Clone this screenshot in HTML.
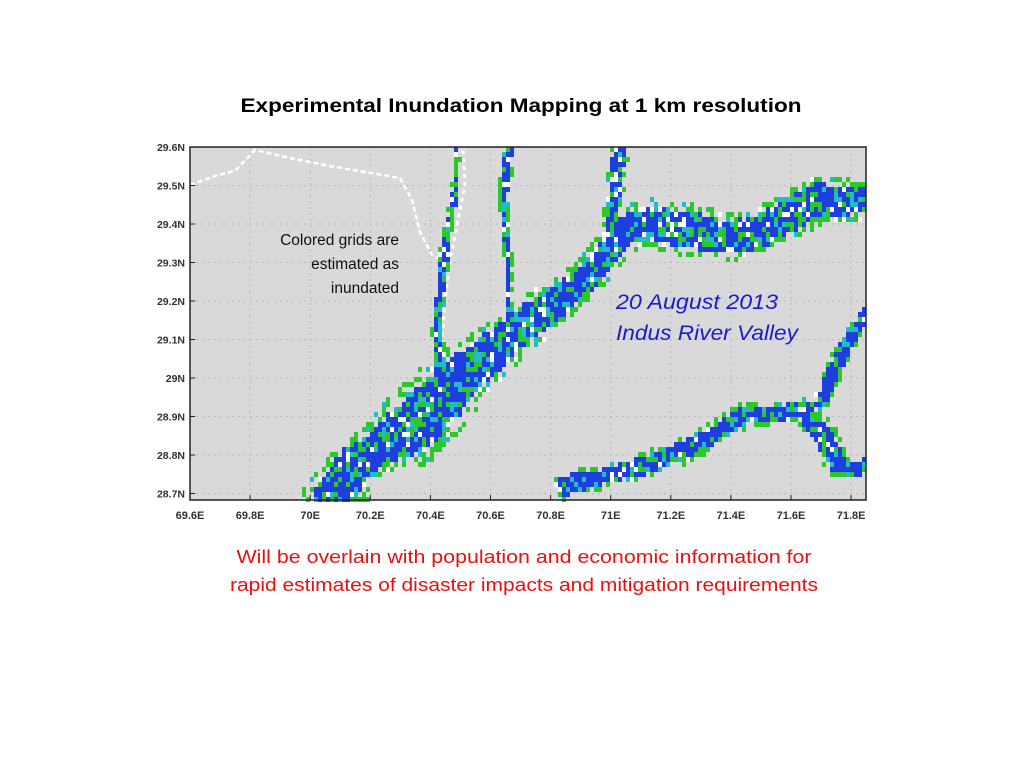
<!DOCTYPE html>
<html><head><meta charset="utf-8"><style>
html,body{margin:0;padding:0;background:#fff;width:1024px;height:768px;overflow:hidden}
</style></head><body>
<svg id="chart" width="1024" height="768" viewBox="0 0 1024 768" xmlns="http://www.w3.org/2000/svg">
<text x="521" y="112" text-anchor="middle" font-family="Liberation Sans, sans-serif" font-weight="bold" font-size="19" textLength="561" lengthAdjust="spacingAndGlyphs">Experimental Inundation Mapping at 1 km resolution</text>
<rect x="190" y="147" width="676" height="353" fill="#d9d9d9"/>
<g id="grid"></g>
<polyline points="190,185 215,176 235,171 255,150 290,158 330,166 400,178 412,200 420,232 432,255 447,262" fill="none" stroke="#fff" stroke-width="2.5" stroke-dasharray="5,3"/>
<polyline points="463,150 465,185 458,220 450,260 445,300 442,340 445,380" fill="none" stroke="#fff" stroke-width="3" stroke-dasharray="4,4"/>
<g id="cells"></g>
<rect x="190" y="147" width="676" height="353" fill="none" stroke="#222" stroke-width="1.5"/>
<g id="axes"></g>
<g font-family="Liberation Sans, sans-serif" font-size="15.5" text-anchor="end" fill="#111">
<text x="399" y="245">Colored grids are</text>
<text x="399" y="269">estimated as</text>
<text x="399" y="293">inundated</text>
</g>
<g font-family="Liberation Sans, sans-serif" font-size="21" font-style="italic" fill="#1a1ad0">
<text x="616" y="309" textLength="162" lengthAdjust="spacingAndGlyphs">20 August 2013</text>
<text x="616" y="340" textLength="182" lengthAdjust="spacingAndGlyphs">Indus River Valley</text>
</g>
<g font-family="Liberation Sans, sans-serif" font-size="18" text-anchor="middle" fill="#e81010">
<text x="524" y="563" textLength="575" lengthAdjust="spacingAndGlyphs">Will be overlain with population and economic information for</text>
<text x="524" y="591" textLength="588" lengthAdjust="spacingAndGlyphs">rapid estimates of disaster impacts and mitigation requirements</text>
</g>
</svg>
<script>
const lonTicks=[69.6,69.8,70.0,70.2,70.4,70.6,70.8,71.0,71.2,71.4,71.6,71.8];
const lonLabels=["69.6E","69.8E","70E","70.2E","70.4E","70.6E","70.8E","71E","71.2E","71.4E","71.6E","71.8E"];
const latTicks=[29.6,29.5,29.4,29.3,29.2,29.1,29.0,28.9,28.8,28.7];
const latLabels=["29.6N","29.5N","29.4N","29.3N","29.2N","29.1N","29N","28.9N","28.8N","28.7N"];
// river centerlines: lon, lat, width (km)
const indusLon=[70.083,70.149,70.216,70.332,70.432,70.532,70.632,70.732,70.831,70.931,70.998,71.048,71.131,71.264,71.397,71.497,71.597,71.697,71.85];
const indusLat=[28.691,28.774,28.813,28.865,28.943,29.021,29.086,29.151,29.203,29.268,29.333,29.384,29.397,29.384,29.364,29.379,29.423,29.462,29.462];
const indusW=[40,34,30,48,46,38,32,30,26,24,22,28,32,32,30,28,30,30,24];
const branchLon=[70.998,71.005,71.02,71.03];
const branchLat=[29.333,29.42,29.52,29.6];
const branchW=[14,12,12,12];
const tribLon=[70.49,70.48,70.45,70.42,70.43];
const tribLat=[29.6,29.47,29.33,29.15,29.02];
const tribW=[4,5,7,7,10];
const trib2Lon=[70.66,70.645,70.66,70.66];
const trib2Lat=[29.6,29.47,29.3,29.15];
const trib2W=[8,7,5,5];
const southLon=[70.85,70.98,71.11,71.24,71.34,71.44,71.54,71.64,71.7,71.77,71.85];
const southLat=[28.72,28.745,28.77,28.81,28.85,28.9,28.905,28.92,28.86,28.76,28.77];
const southW=[18,14,16,16,16,16,12,16,18,16,14];
const eastLon=[71.85,71.78,71.73,71.7];
const eastLat=[29.17,29.08,29.0,28.93];
const eastW=[8,12,12,10];
const rivers=[[indusLon,indusLat,indusW],[branchLon,branchLat,branchW],[tribLon,tribLat,tribW],[trib2Lon,trib2Lat,trib2W],[southLon,southLat,southW],[eastLon,eastLat,eastW]];

const X0=190,X1=866,Y0=147,Y1=500;
const xs=lon=>X0+(lon-69.6)/0.2*60.1;
const ys=lat=>Y0+(29.6-lat)/0.1*38.5;
const NS="http://www.w3.org/2000/svg";
function mk(t,a,p){const e=document.createElementNS(NS,t);for(const k in a)e.setAttribute(k,a[k]);p.appendChild(e);return e;}
const grid=document.getElementById('grid'),axes=document.getElementById('axes'),cells=document.getElementById('cells');
lonTicks.forEach((v,i)=>{const x=xs(v);
 const g=mk('line',{x1:x,x2:x,y1:Y0,y2:Y1,stroke:'#b8b8b8','stroke-width':1,'stroke-dasharray':'2,4'},grid);
 
 
 const t=mk('text',{x:x,y:519,'text-anchor':'middle','font-family':'Liberation Sans, sans-serif','font-weight':'bold','font-size':11,fill:'#333'},axes);
 t.textContent=lonLabels[i];
 
 
 const tk=mk('line',{x1:x,x2:x,y1:Y1,y2:Y1-5,stroke:'#222'},axes);
 
 
});
latTicks.forEach((v,i)=>{const y=ys(v);
 const g=mk('line',{x1:X0,x2:X1,y1:y,y2:y,stroke:'#b8b8b8','stroke-width':1,'stroke-dasharray':'2,4'},grid);
 
 
 const t=mk('text',{x:185,y:y+4,'text-anchor':'end','font-family':'Liberation Sans, sans-serif','font-weight':'bold','font-size':10.5,fill:'#333'},axes);
 t.textContent=latLabels[i];
 
 
 const tk=mk('line',{x1:X0,x2:X0+5,y1:y,y2:y,stroke:'#222'},axes);
 
 
});
function segDist(px,py,ax,ay,bx,by){const dx=bx-ax,dy=by-ay,l=dx*dx+dy*dy;let t=l?((px-ax)*dx+(py-ay)*dy)/l:0;t=Math.max(0,Math.min(1,t));const cx=ax+t*dx-px,cy=ay+t*dy-py;return [Math.sqrt(cx*cx+cy*cy),t];}
function h(i,j){let n=i*374761393+j*668265263;n=(n^(n>>>13))*1274126177;n=n^(n>>>16);return ((n>>>0)%1000)/1000;}
const CW=4,CH=5;
for(let j=0;j*CH<Y1-Y0;j++){for(let i=0;i*CW<X1-X0;i++){
 const px=X0+i*CW+2,py=Y0+j*CH+2.5;let best=1e9;
 rivers.forEach(r=>{const [lo,la,w]=r;for(let k=0;k<lo.length-1;k++){const [d,t]=segDist(px,py,xs(lo[k]),ys(la[k]),xs(lo[k+1]),ys(la[k+1]));const hw=(w[k]+(w[k+1]-w[k])*t)*0.7;const rel=d/hw;if(rel<best)best=rel;}});
 const r=h(i,j),r2=h(j+7,i+3);
 if(best>1.15)continue;
 if(best>0.75&&r>0.45)continue;
 let c;
 if(r2<0.08)c='#ffffff';else if(r2<0.2)c='#22bcc8';else if(r2<0.38||best>0.8)c='#2ac82a';else c='#1e3ee0';
 const e=mk('rect',{x:X0+i*CW,y:Y0+j*CH,width:CW,height:CH,fill:c},cells);
 
 
}}
</script>
</body></html>
